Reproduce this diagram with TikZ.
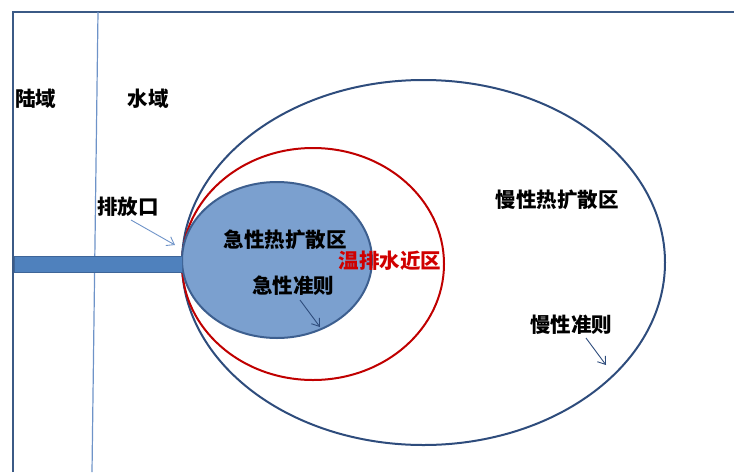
\documentclass[tikz,border=0pt]{standalone}
\usepackage{fontspec}
\newfontfamily\cjk{Noto Sans CJK SC}
\usetikzlibrary{arrows.meta}
\definecolor{frameblue}{HTML}{3B5A86}
\definecolor{thinblue}{HTML}{6E93C8}
\definecolor{pipefill}{HTML}{4F81BD}
\definecolor{pipeedge}{HTML}{3E6598}
\definecolor{acutefill}{HTML}{7BA0CF}
\definecolor{acuteedge}{HTML}{3D5F8F}
\definecolor{outerblue}{HTML}{2E4C7C}
\definecolor{redline}{HTML}{C00000}
\definecolor{redtext}{HTML}{D00000}
\tikzset{
  lbl/.style={font=\cjk\bfseries\fontsize{20.5}{23}\selectfont, inner sep=0pt},
  pointer/.style={-{Straight Barb[length=7pt,width=10pt]}, line width=0.9pt},
}
\begin{document}
\begin{tikzpicture}[x=1pt,y=-1pt]
\useasboundingbox (0,0) rectangle (734,472);
% frame
\draw[frameblue, line width=2.6pt] (13,472) -- (13,12) -- (734,12);
\draw[thinblue, line width=1.2pt] (98,12) -- (92,472);
% ellipses
\draw[outerblue, line width=2pt] (423.5,262.5) ellipse [x radius=241.5, y radius=182.5];
\draw[redline, line width=2pt] (313,264) ellipse [x radius=131, y radius=116];
\draw[acuteedge, line width=2pt, fill=acutefill] (277,260) ellipse [x radius=95, y radius=78];
% pipe
\draw[pipeedge, fill=pipefill, line width=1pt] (14,256) rectangle (182,272);
% labels
\node[lbl] (land) at (36,99) {陆域};
\node[lbl] (water) at (148,99) {水域};
\node[lbl] (outlet) at (128,207) {排放口};
\node[lbl] (acute) at (285,240) {急性热扩散区};
\node[lbl] (acutec) at (293,286) {急性准则};
\node[lbl, text=redtext] (near) at (390,261) {温排水近区};
\node[lbl] (chronic) at (557,200) {慢性热扩散区};
\node[lbl] (chronicc) at (571,325) {慢性准则};
% pointers
\coordinate (outletend) at (175,245);
\coordinate (acuteend) at (320,327);
\coordinate (chronicend) at (606,365);
\draw[pointer, thinblue] (131,220) -- (outletend);
\draw[pointer, outerblue] (300,300) -- (acuteend);
\draw[pointer, outerblue] (586,338) -- (chronicend);
\end{tikzpicture}
\end{document}
